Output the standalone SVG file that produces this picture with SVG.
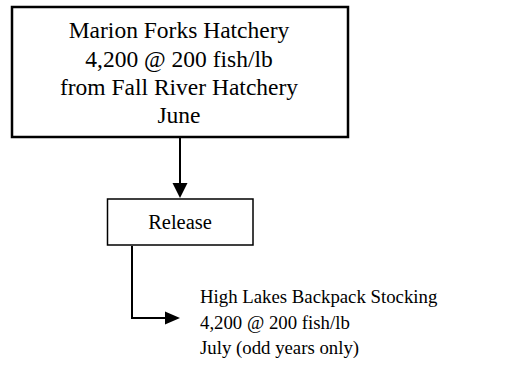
<svg xmlns="http://www.w3.org/2000/svg" width="507" height="368" viewBox="0 0 507 368">
<style>
.t{font-family:"Liberation Serif","Times New Roman",serif;fill:#000}
.c{text-anchor:middle}
.box{fill:#fff;stroke:#000}
.ln{fill:none;stroke:#000;stroke-width:2}
</style>
<rect width="507" height="368" fill="#fff"/>
<g id="connectors">
<line class="ln" x1="180" y1="137" x2="180" y2="183"/>
<polygon points="172.5,183 187.5,183 180,198" fill="#000"/>
<polyline class="ln" points="132,246 132,318 166,318"/>
<polygon points="165,311.5 180,318 165,324.5" fill="#000"/>
</g>
<g id="hatchery">
<rect class="box" x="12" y="7" width="336" height="130" stroke-width="2.5"/>
<text class="t c" x="179" y="38" font-size="23.5">Marion Forks Hatchery</text>
<text class="t c" x="179" y="66.5" font-size="23.5">4,200 @ 200 fish/lb</text>
<text class="t c" x="179" y="95" font-size="23.5">from Fall River Hatchery</text>
<text class="t c" x="179" y="123" font-size="23.5">June</text>
</g>
<g id="release">
<rect class="box" x="107.5" y="199" width="145.5" height="46" stroke-width="1.5"/>
<text class="t c" x="180" y="229" font-size="20.5">Release</text>
</g>
<g id="backpack">
<text class="t" x="200" y="303" font-size="18.8">High Lakes Backpack Stocking</text>
<text class="t" x="200" y="329" font-size="18.8">4,200 @ 200 fish/lb</text>
<text class="t" x="200" y="354" font-size="18.8">July (odd years only)</text>
</g>
</svg>
